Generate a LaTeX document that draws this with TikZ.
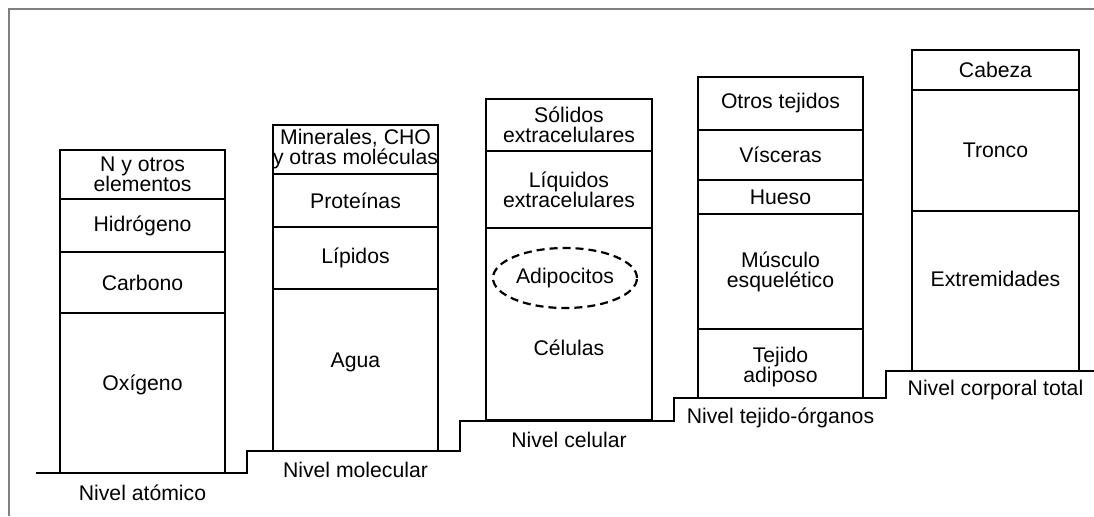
\documentclass[tikz,border=0pt]{standalone}
\usepackage{fontspec}
\setmainfont{Liberation Sans}
\usetikzlibrary{shapes.geometric}
\begin{document}
\begin{tikzpicture}[x=0.5pt,y=-0.5pt,
  every node/.style={font=\fontsize{10.6}{10}\selectfont,align=center,inner sep=1pt},
  col/.style={line width=1.1pt},
  frame/.style={black!50,line width=0.8pt}]
  \useasboundingbox (0,0) rectangle (1094,516);
  \draw[frame] (9,516) -- (9,9) -- (1094,9);
  % steps
  \draw[col] (36,473) -- (247,473) -- (247,451) -- (460,451) -- (460,421)
    -- (674,421) -- (674,398) -- (886,398) -- (886,371) -- (1094,371);
  % nivel atomico
  \draw[col] (60,150) rectangle node (nelem) {N y otros\\elementos} (225,199);
  \draw[col] (60,199) rectangle node (hidro) {Hidrógeno} (225,252);
  \draw[col] (60,252) rectangle node (carb) {Carbono} (225,313);
  \draw[col] (60,313) rectangle (225,473);
  \node (oxig) at (142.5,385) {Oxígeno};
  \node (lvatom) at (142.5,493) {Nivel atómico};
  % nivel molecular
  \draw[col] (273,125) rectangle node (miner) {Minerales, CHO\\y otras moléculas} (438,174);
  \draw[col] (273,174) rectangle node (prot) {Proteínas} (438,227);
  \draw[col] (273,227) rectangle node (lipid) {Lípidos} (438,289);
  \draw[col] (273,289) rectangle (438,451);
  \node (agua) at (355.5,362) {Agua};
  \node (lvmol) at (355.5,470) {Nivel molecular};
  % nivel celular
  \draw[col] (486,99) rectangle node (solid) {Sólidos\\extracelulares} (652,151);
  \draw[col] (486,151) rectangle node (liqu) {Líquidos\\extracelulares} (652,228);
  \draw[col] (486,228) rectangle (652,420);
  \node[ellipse,draw,line width=1.1pt,dash pattern=on 4pt off 2.5pt,
    minimum width=72pt,minimum height=30pt] (adipo) at (565,278) {Adipocitos};
  \node (celul) at (569,348) {Células};
  \node (lvcel) at (569,440) {Nivel celular};
  % nivel tejido-organos
  \draw[col] (698,77) rectangle node (otros) {Otros tejidos} (863,130);
  \draw[col] (698,130) rectangle node (visc) {Vísceras} (863,180);
  \draw[col] (698,180) rectangle node (hueso) {Hueso} (863,214);
  \draw[col] (698,214) rectangle node (musc) {Músculo\\esquelético} (863,329);
  \draw[col] (698,329) rectangle (863,398);
  \node (adip) at (780.5,367) {Tejido\\adiposo};
  \node (lvtej) at (780.5,418) {Nivel tejido-órganos};
  % nivel corporal total
  \draw[col] (912,50) rectangle node (cabeza) {Cabeza} (1079,90);
  \draw[col] (912,90) rectangle node (tronco) {Tronco} (1079,211);
  \draw[col] (912,211) rectangle (1079,371);
  \node (extrem) at (995.5,279) {Extremidades};
  \node (lvtot) at (995.5,390) {Nivel corporal total};
\end{tikzpicture}
\end{document}
